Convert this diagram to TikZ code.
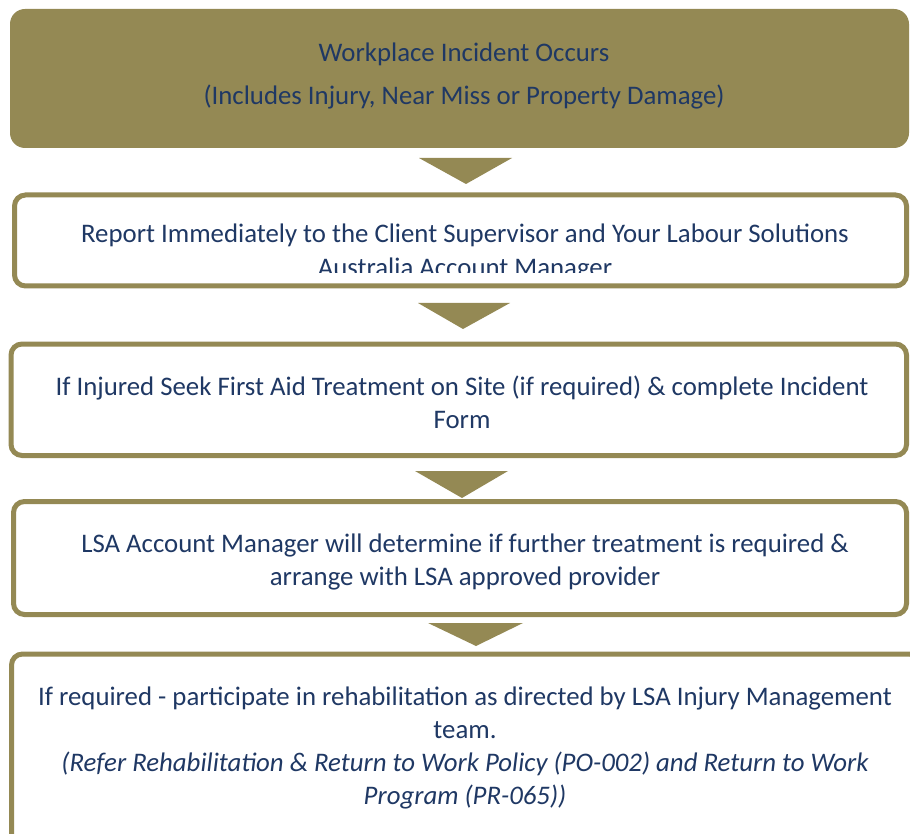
\documentclass[tikz,border=0pt]{standalone}
\usepackage{fontspec}
\setmainfont{Carlito}
\usetikzlibrary{calc}
\definecolor{olive}{RGB}{148,137,84}
\definecolor{navy}{RGB}{31,56,100}
\tikzset{
  headbox/.style={rectangle, rounded corners=15pt, fill=olive, draw=none, inner sep=0pt},
  stepbox/.style={rectangle, rounded corners=11pt, draw=olive, line width=5pt, fill=white, inner sep=0pt},
  steptext/.style={text=navy, align=center, inner sep=0pt, font=\fontsize{26.8}{33}\selectfont},
  headtext/.style={steptext, font=\fontsize{26.8}{43}\selectfont},
  downtri/.style={fill=olive, draw=none}
}
\begin{document}
\begin{tikzpicture}[x=1pt,y=-1pt]
\useasboundingbox (0,0) rectangle (910,834);
\begin{scope}
\clip (0,0) rectangle (910,834);
% boxes
\node[headbox, minimum width=899pt, minimum height=139pt] (b1) at (459.5,78.5) {};
\node[stepbox, minimum width=892pt, minimum height=91pt] (b2) at (460.5,240.5) {};
\node[stepbox, minimum width=895.5pt, minimum height=111.5pt] (b3) at (458.75,399.75) {};
\node[stepbox, minimum width=893pt, minimum height=113pt] (b4) at (460,558) {};
\node[stepbox, minimum width=908.5pt, minimum height=196pt] (b5) at (465.75,752) {};
% arrows between steps
\fill[downtri] (419,158) -- (512,158) -- (466,184) -- cycle;
\fill[downtri] (418,303) -- (510,303) -- (463,329) -- cycle;
\fill[downtri] (415,471) -- (508,471) -- (462,498) -- cycle;
\fill[downtri] (428,623) -- (523,623) -- (476,646) -- cycle;
% texts
\node[headtext] (t1) at (464,76.5) {Workplace Incident Occurs\\(Includes Injury, Near Miss or Property Damage)};
\begin{scope}
\clip (20,198) rectangle (900,273);
\node[steptext] (t2) at (465,252.5) {Report Immediately to the Client Supervisor and Your Labour Solutions\\Australia Account Manager};
\end{scope}
\node[steptext] (t3) at (462,402) {If Injured Seek First Aid Treatment on Site (if required) \& complete Incident\\Form};
\node[steptext] (t4) at (465,562) {LSA Account Manager will determine if further treatment is required \&\\arrange with LSA approved provider};
\node[steptext] (t5) at (465,748) {If required - participate in rehabilitation as directed by LSA Injury Management\\team.\\\itshape (Refer Rehabilitation \& Return to Work Policy (PO-002) and Return to Work\\\itshape Program (PR-065))};
\end{scope}
\end{tikzpicture}
\end{document}
